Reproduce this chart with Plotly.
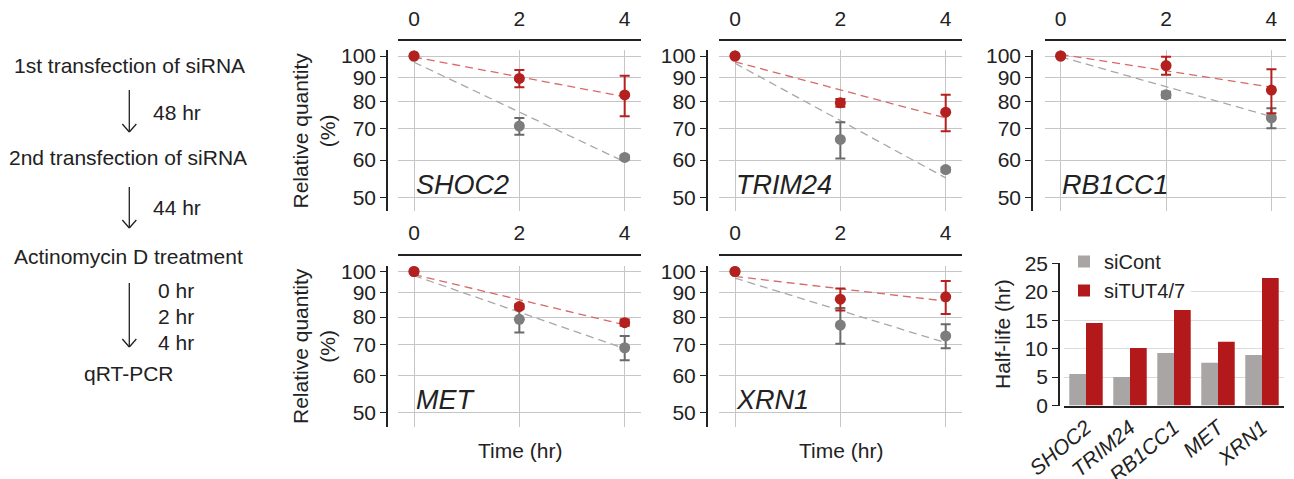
import plotly.graph_objects as go

W, H = 1294, 479
OFF = 8  # page body margin in the browser

# ---------------- data ----------------
time_hr = [0, 2, 4]
fit_time = [0, 4]
genes = ["SHOC2", "TRIM24", "RB1CC1", "MET", "XRN1"]

shoc2_cont = [100, 70.9, 60.8]
shoc2_cont_err = [0, 2.9, 0.6]
shoc2_tut = [100, 89.6, 82.6]
shoc2_tut_err = [0, 3.8, 8.2]
shoc2_cont_fit = [97.0, 59.5]
shoc2_tut_fit = [99.5, 81.9]

trim24_cont = [100, 66.4, 57.3]
trim24_cont_err = [0, 5.9, 0.6]
trim24_tut = [100, 79.5, 75.9]
trim24_tut_err = [0, 1.5, 6.8]
trim24_cont_fit = [96.5, 55.0]
trim24_tut_fit = [97.2, 73.8]

rb1cc1_cont = [100, 82.7, 73.8]
rb1cc1_cont_err = [0, 1.2, 3.6]
rb1cc1_tut = [100, 95.4, 84.6]
rb1cc1_tut_err = [0, 4.2, 9.1]
rb1cc1_cont_fit = [99.6, 74.3]
rb1cc1_tut_fit = [100.8, 85.8]

met_cont = [100, 79.1, 68.8]
met_cont_err = [0, 5.0, 4.1]
met_tut = [100, 84.2, 77.8]
met_tut_err = [0, 1.0, 1.2]
met_cont_fit = [98.0, 68.5]
met_tut_fit = [98.5, 77.0]

xrn1_cont = [100, 76.9, 72.9]
xrn1_cont_err = [0, 6.7, 4.3]
xrn1_tut = [100, 87.3, 88.3]
xrn1_tut_err = [0, 4.7, 7.1]
xrn1_cont_fit = [96.8, 70.5]
xrn1_tut_fit = [97.6, 86.5]

halflife_cont = [5.55, 5.0, 9.25, 7.5, 8.9]
halflife_tut = [14.5, 10.1, 16.8, 11.2, 22.4]

rel_ticks = [50, 60, 70, 80, 90, 100]
time_ticks = [0, 2, 4]
half_ticks = [0, 5, 10, 15, 20, 25]
legend_names = ["siCont", "siTUT4/7"]

# ---------------- style ----------------
FONT = "Liberation Sans, Arial, Helvetica, sans-serif"
FS = 21
TXT = "#222222"
GRID = "#c6c6c6"
AX = "#222222"
GRAY_PT = "#7d7d7d"
GRAY_ERR = "#6a6a6a"
RED_PT = "#b3201e"
GRAY_FIT = "#a8a8a8"
RED_FIT = "#d66a68"
BAR_GRAY = "#a9a5a5"
BAR_RED = "#b3191b"


def fx(px):
    return (px - OFF) / W


def fy(py):
    return 1 - (py - OFF) / H


panels = [
    ("SHOC2", shoc2_cont, shoc2_cont_err, shoc2_tut, shoc2_tut_err, shoc2_cont_fit, shoc2_tut_fit),
    ("TRIM24", trim24_cont, trim24_cont_err, trim24_tut, trim24_tut_err, trim24_cont_fit, trim24_tut_fit),
    ("RB1CC1", rb1cc1_cont, rb1cc1_cont_err, rb1cc1_tut, rb1cc1_tut_err, rb1cc1_cont_fit, rb1cc1_tut_fit),
    ("MET", met_cont, met_cont_err, met_tut, met_tut_err, met_cont_fit, met_tut_fit),
    ("XRN1", xrn1_cont, xrn1_cont_err, xrn1_tut, xrn1_tut_err, xrn1_cont_fit, xrn1_tut_fit),
]

col_x0 = [398.2, 719.2, 1044.9]
col_w = 242.3
col_yaxis = [387.0, 706.7, 1032.0]
rows = [(50.0, 211.0, 40.0), (265.5, 426.5, 254.5)]
gene_label_y = [185.0, 400.0]
gene_label_x = [414.0, 734.0, 1060.0]

fig = go.Figure()
layout = {}
annotations = []
shapes = []

for i, (gene, c, ce, t, te, cf, tf) in enumerate(panels):
    r, col = divmod(i, 3)
    s = "" if i == 0 else str(i + 1)
    xa, ya = "x" + s, "y" + s
    fig.add_trace(go.Scatter(x=fit_time, y=cf, mode="lines",
                             line=dict(color=GRAY_FIT, width=1.3, dash="8px,5px"),
                             xaxis=xa, yaxis=ya, showlegend=False, hoverinfo="skip"))
    fig.add_trace(go.Scatter(x=fit_time, y=tf, mode="lines",
                             line=dict(color=RED_FIT, width=1.3, dash="8px,5px"),
                             xaxis=xa, yaxis=ya, showlegend=False, hoverinfo="skip"))
    fig.add_trace(go.Scatter(x=time_hr, y=c, mode="markers",
                             marker=dict(color=GRAY_PT, size=11),
                             error_y=dict(type="data", array=ce, color=GRAY_ERR, thickness=2, width=5),
                             xaxis=xa, yaxis=ya, showlegend=False))
    fig.add_trace(go.Scatter(x=time_hr, y=t, mode="markers",
                             marker=dict(color=RED_PT, size=11),
                             error_y=dict(type="data", array=te, color=RED_PT, thickness=2, width=5),
                             xaxis=xa, yaxis=ya, showlegend=False))

    top, bot, axline = rows[r]
    x0 = col_x0[col]
    layout["xaxis" + s] = dict(
        domain=[fx(x0), fx(x0 + col_w)], anchor="free", position=fy(axline), side="top",
        range=[-0.3, 4.3], tickvals=time_ticks, showline=True, linecolor=AX, linewidth=1.5,
        ticks="outside", ticklen=5, tickcolor="rgba(0,0,0,0)", automargin=False,
        showgrid=True, gridcolor=GRID, gridwidth=1.3, zeroline=False,
        tickfont=dict(size=FS, color=TXT, family=FONT),
    )
    layout["yaxis" + s] = dict(
        domain=[fy(bot), fy(top)], anchor="free", position=fx(col_yaxis[col]),
        type="log", range=[1.6698, 2.0128], tickvals=rel_ticks,
        ticktext=[str(v) for v in rel_ticks], automargin=False,
        showline=True, linecolor=AX, linewidth=1.5,
        ticks="outside", ticklen=6, tickcolor=AX, tickwidth=1.3,
        showgrid=True, gridcolor=GRID, gridwidth=1.3, zeroline=False,
        tickfont=dict(size=FS, color=TXT, family=FONT),
    )
    annotations.append(dict(text="<i>%s</i>" % gene, x=fx(gene_label_x[col]), y=fy(gene_label_y[r]),
                            xref="paper", yref="paper", xanchor="left", yanchor="middle",
                            showarrow=False, font=dict(size=27, color=TXT, family=FONT)))

# bar chart
fig.add_trace(go.Bar(x=genes, y=halflife_cont, name=legend_names[0], marker_color=BAR_GRAY,
                     marker_line_width=0, xaxis="x6", yaxis="y6"))
fig.add_trace(go.Bar(x=genes, y=halflife_tut, name=legend_names[1], marker_color=BAR_RED,
                     marker_line_width=0, xaxis="x6", yaxis="y6"))
layout["xaxis6"] = dict(
    domain=[fx(1064), fx(1284)], anchor="y6", showline=True, linecolor=AX, linewidth=1.5,
    tickvals=genes, ticktext=["<i>%s</i>" % g for g in genes], tickangle=-40, automargin=False,
    ticks="", showgrid=False, tickfont=dict(size=FS, color=TXT, family=FONT),
)
layout["yaxis6"] = dict(
    domain=[fy(405.5), fy(263.3)], anchor="free", position=fx(1059), range=[0, 25],
    tickvals=half_ticks, showline=True, linecolor=AX, linewidth=1.5, automargin=False,
    ticks="outside", ticklen=6, tickcolor=AX, tickwidth=1.3,
    showgrid=True, gridcolor="#dcdcdc", gridwidth=1.3, zeroline=False,
    tickfont=dict(size=FS, color=TXT, family=FONT),
)

# axis titles as annotations
for r, yc in enumerate([130.5, 346.0]):
    annotations.append(dict(text="Relative quantity<br>(%)", x=fx(314), y=fy(yc), xref="paper", yref="paper",
                            textangle=-90, showarrow=False, xanchor="center", yanchor="middle",
                            font=dict(size=FS, color=TXT, family=FONT)))
for xc in [520.0, 840.5]:
    annotations.append(dict(text="Time (hr)", x=fx(xc), y=fy(450), xref="paper", yref="paper",
                            showarrow=False, xanchor="center", yanchor="middle",
                            font=dict(size=FS, color=TXT, family=FONT)))
annotations.append(dict(text="Half-life (hr)", x=fx(1002), y=fy(334), xref="paper", yref="paper",
                        textangle=-90, showarrow=False, xanchor="center", yanchor="middle",
                        font=dict(size=FS, color=TXT, family=FONT)))

# flow chart text
flow = [
    ("1st transfection of siRNA", 129, 65, "center"),
    ("48 hr", 151, 112, "left"),
    ("2nd transfection of siRNA", 128, 158, "center"),
    ("44 hr", 151, 207, "left"),
    ("Actinomycin D treatment", 128, 257, "center"),
    ("0 hr", 156, 290, "left"),
    ("2 hr", 156, 316, "left"),
    ("4 hr", 156, 342, "left"),
    ("qRT-PCR", 128, 373, "center"),
]
for txt, xp, yp, anc in flow:
    annotations.append(dict(text=txt, x=fx(xp), y=fy(yp), xref="paper", yref="paper",
                            showarrow=False, xanchor=anc, yanchor="middle",
                            font=dict(size=FS, color=TXT, family=FONT)))

for (ya, yb) in [(90, 132), (187, 228), (283, 347)]:
    xa = 129.3
    shapes.append(dict(type="line", xref="paper", yref="paper", x0=fx(xa), x1=fx(xa), y0=fy(ya), y1=fy(yb),
                       line=dict(color=TXT, width=1.3)))
    shapes.append(dict(type="line", xref="paper", yref="paper", x0=fx(xa - 7), x1=fx(xa), y0=fy(yb - 8), y1=fy(yb),
                       line=dict(color=TXT, width=1.3)))
    shapes.append(dict(type="line", xref="paper", yref="paper", x0=fx(xa + 7), x1=fx(xa), y0=fy(yb - 8), y1=fy(yb),
                       line=dict(color=TXT, width=1.3)))

fig.update_layout(
    width=W, height=H, autosize=False,
    margin=dict(l=0, r=0, t=0, b=0, pad=0, autoexpand=False),
    paper_bgcolor="white", plot_bgcolor="white",
    font=dict(family=FONT, size=FS, color=TXT),
    barmode="group", bargap=0.24, bargroupgap=0,
    showlegend=True,
    legend=dict(x=fx(1064), y=fy(242), xanchor="left", yanchor="top", bgcolor="white",
                font=dict(size=20, color=TXT, family=FONT), tracegroupgap=0,
                borderwidth=0, itemwidth=30),
    annotations=annotations,
    shapes=shapes,
    **layout,
)

fig.write_html("out.html")
